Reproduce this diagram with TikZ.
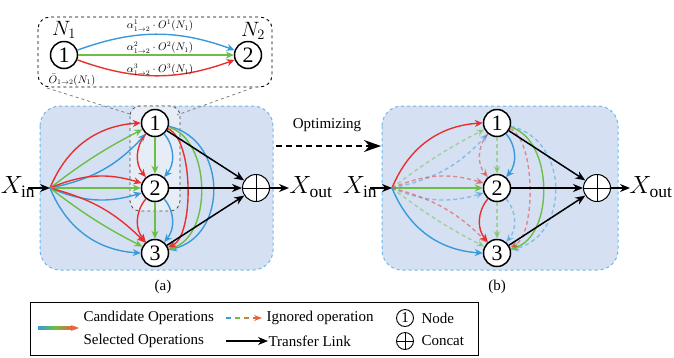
\documentclass[tikz,border=0pt]{standalone}
\usepackage{fontspec}
\setmainfont{Liberation Serif}
\usetikzlibrary{arrows.meta}
\definecolor{cR}{HTML}{E8312F}
\definecolor{cG}{HTML}{6DBE45}
\definecolor{cB}{HTML}{3A9AD9}
\definecolor{cO}{HTML}{E8643A}
\definecolor{boxfill}{HTML}{D5E1F3}
\definecolor{boxline}{HTML}{6CB6EA}
\definecolor{innerfill}{HTML}{E6EDF7}
\begin{document}
\begin{tikzpicture}[x=1pt,y=-1pt,
 nd/.style={circle,draw,line width=1.5pt,fill=white,minimum size=27pt,inner sep=0pt,font=\fontsize{22}{22}\selectfont},
 lnd/.style={circle,draw,line width=0.9pt,fill=white,minimum size=17pt,inner sep=0pt,font=\fontsize{15}{15}\selectfont},
 ccat/.style={circle,draw,line width=1pt,fill=white,minimum size=27pt,inner sep=0pt},
 op/.style={line width=1.4pt,-{Stealth[length=8pt,width=7pt]}},
 tl/.style={line width=1.5pt,-{Stealth[length=10pt,width=8pt]}},
 ig/.style={op,dash pattern=on 4pt off 3pt,opacity=0.5},
 panel/.style={draw=boxline,dashed,fill=boxfill,line width=1pt,rounded corners=20pt},
 lbl/.style={font=\fontsize{15}{15}\selectfont},
 xl/.style={font=\fontsize{25}{25}\selectfont},
 al/.style={inner sep=0pt,font=\fontsize{10.5}{10.5}\selectfont},
]
\useasboundingbox (0,0) rectangle (674,357);

% ---------- top zoom box ----------
\draw[dashed,line width=0.9pt,fill=white,rounded corners=12pt] (38,17) rectangle (272,87);
\node[nd] (t1) at (64,55) {1};
\node[nd] (t2) at (248,55) {2};
\node[font=\fontsize{20}{20}\selectfont,inner sep=0pt] (tn1) at (64,30) {$N_1$};
\node[font=\fontsize{20}{20}\selectfont,inner sep=0pt] (tn2) at (253,31) {$N_2$};
\draw[op,cB] (t1) to[bend left=20] (t2);
\draw[op,cG] (t1) -- (t2);
\draw[op,cR] (t1) to[bend right=20] (t2);
\node[al] (la1) at (160,26) {$\alpha^1_{1\to2}\cdot O^1(N_1)$};
\node[al] (la2) at (160,48) {$\alpha^2_{1\to2}\cdot O^2(N_1)$};
\node[al] (la3) at (160,70) {$\alpha^3_{1\to2}\cdot O^3(N_1)$};
\node[al] (lo) at (72,80) {$\bar{O}_{1\to2}(N_1)$};

% ---------- panel (a) ----------
\draw[panel] (40,106) rectangle (273,270);
\draw[dashed,draw=gray!60!black,fill=innerfill,line width=0.8pt,rounded corners=10pt] (130,106) rectangle (180,211);
\draw[dashed,gray,line width=0.8pt] (47,88) -- (133,115);
\draw[dashed,gray,line width=0.8pt] (252,88) -- (177,115);

\coordinate (s) at (50,188);
\node[nd] (a1) at (155,123) {1};
\node[nd] (a2) at (155,188) {2};
\node[nd] (a3) at (155,253) {3};
\node[ccat] (ac) at (256,188) {};
\draw[line width=1pt] (ac.north) -- (ac.south) (ac.west) -- (ac.east);

\draw[op,cR] (s) to[bend left=32] (a1);
\draw[op,cG] (s) to[bend left=5] (a1);
\draw[op,cB] (s) to[bend right=18] (a1);
\draw[op,cR] (s) to[bend left=20] (a2);
\draw[op,cG] (s) -- (a2);
\draw[op,cB] (s) to[bend right=20] (a2);
\draw[op,cR] (s) to[bend left=15] (a3);
\draw[op,cG] (s) to[bend right=5] (a3);
\draw[op,cB] (s) to[bend right=32] (a3);

\draw[op,cR] (a1) to[bend right=40] (a2);
\draw[op,cG] (a1) -- (a2);
\draw[op,cB] (a1) to[bend left=40] (a2);
\draw[op,cR] (a2) to[bend right=40] (a3);
\draw[op,cG] (a2) -- (a3);
\draw[op,cB] (a2) to[bend left=40] (a3);

\draw[op,cB] (a1) .. controls (228,140) and (228,236) .. (a3);
\draw[op,cG] (a1) .. controls (212,140) and (212,236) .. (a3);
\draw[op,cR] (a1) .. controls (194,140) and (194,236) .. (a3);

\draw[tl] (a1) -- (ac);
\draw[tl] (a2) -- (ac);
\draw[tl] (a3) -- (ac);

\node[xl] (axin) at (18,187) {$X_{\mathrm{in}}$};
\coordinate (axa) at (28,188);
\draw[tl] (axa) -- (s);
\node[xl] (axout) at (311,187) {$X_{\mathrm{out}}$};
\coordinate (axo) at (289,188);
\draw[tl] (ac) -- (axo);
\node[lbl] (capa) at (163,287) {(a)};

% ---------- optimizing arrow ----------
\node[lbl] (opt) at (327,125) {Optimizing};
\coordinate (o1) at (276,146);
\coordinate (o2) at (381,146);
\draw[line width=1.6pt,dash pattern=on 6pt off 4pt,-{Stealth[length=17pt,width=12pt]}] (o1) -- (o2);

% ---------- panel (b) ----------
\draw[panel] (382,106) rectangle (618,270);
\coordinate (bs) at (392,188);
\node[nd] (b1) at (497,123) {1};
\node[nd] (b2) at (497,188) {2};
\node[nd] (b3) at (497,253) {3};
\node[ccat] (bc) at (597,188) {};
\draw[line width=1pt] (bc.north) -- (bc.south) (bc.west) -- (bc.east);

\draw[op,cR] (bs) to[bend left=32] (b1);
\draw[ig,cG] (bs) to[bend left=5] (b1);
\draw[ig,cB] (bs) to[bend right=18] (b1);
\draw[ig,cR] (bs) to[bend left=20] (b2);
\draw[op,cG] (bs) -- (b2);
\draw[ig,cB] (bs) to[bend right=20] (b2);
\draw[ig,cR] (bs) to[bend left=15] (b3);
\draw[ig,cG] (bs) to[bend right=5] (b3);
\draw[op,cB] (bs) to[bend right=32] (b3);

\draw[ig,cR] (b1) to[bend right=40] (b2);
\draw[ig,cG] (b1) -- (b2);
\draw[op,cB] (b1) to[bend left=40] (b2);
\draw[op,cR] (b2) to[bend right=40] (b3);
\draw[ig,cG] (b2) -- (b3);
\draw[ig,cB] (b2) to[bend left=40] (b3);

\draw[ig,cB] (b1) .. controls (570,140) and (570,236) .. (b3);
\draw[op,cG] (b1) .. controls (554,140) and (554,236) .. (b3);
\draw[ig,cR] (b1) .. controls (536,140) and (536,236) .. (b3);

\draw[tl] (b1) -- (bc);
\draw[tl] (b2) -- (bc);
\draw[tl] (b3) -- (bc);

\node[xl] (bxin) at (360,187) {$X_{\mathrm{in}}$};
\coordinate (bxa) at (370,188);
\draw[tl] (bxa) -- (bs);
\node[xl] (bxout) at (651,187) {$X_{\mathrm{out}}$};
\coordinate (bxo) at (630,188);
\draw[tl] (bc) -- (bxo);
\node[lbl] (capb) at (497,287) {(b)};

% ---------- legend ----------
\draw[line width=0.9pt] (30,302) rectangle (478,355);
\shade[left color=cB,right color=cO,middle color=cG] (38,326.8) rectangle (72,329.2);
\coordinate (g1) at (70,328);
\coordinate (g2) at (79,328);
\draw[cO,line width=1.3pt,-{Stealth[length=8pt,width=6pt]}] (g1) -- (g2);
\node[lbl,anchor=west] (t_cand) at (80,318) {Candidate Operations};
\node[lbl,anchor=west] (t_sel) at (80,341) {Selected Operations};

\draw[cB,line width=1.2pt] (226,318) -- (231,318);
\draw[cG,line width=1.2pt] (235,318) -- (240,318);
\draw[cG!50!cO,line width=1.2pt] (244,318) -- (249,318);
\coordinate (d1) at (253,318);
\coordinate (d2) at (262,318);
\draw[cO,line width=1.2pt,-{Stealth[length=8pt,width=6pt]}] (d1) -- (d2);
\node[lbl,anchor=west] (t_ign) at (263,318) {Ignored operation};

\coordinate (k1) at (226,341);
\coordinate (k2) at (268,341);
\draw[tl] (k1) -- (k2);
\node[lbl,anchor=west] (t_tr) at (265,341) {Transfer Link};

\node[lnd] (lg1) at (405,318) {1};
\node[lbl,anchor=west] (t_node) at (418,318) {Node};
\node[lnd] (lg2) at (405,341) {};
\draw[line width=0.9pt] (lg2.north) -- (lg2.south) (lg2.west) -- (lg2.east);
\node[lbl,anchor=west] (t_cc) at (418,341) {Concat};
\end{tikzpicture}
\end{document}
